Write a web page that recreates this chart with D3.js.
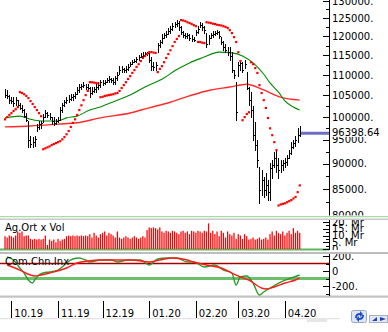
<!DOCTYPE html>
<html><head><meta charset="utf-8">
<script src="https://cdn.jsdelivr.net/npm/d3@7"></script>
<style>
html,body{margin:0;padding:0;background:#fff;overflow:hidden}
svg{display:block}
text{font-family:"DejaVu Sans",sans-serif;font-size:10px;fill:#000}
</style>
</head><body>
<svg id="c" width="388" height="332"></svg>
<script>
// ---------- DATA (trading days, index 0 = late Sep 2019) ----------
const high = [106300,106100,104900,104600,104400,104600,103900,103200,102700,101600,
100900,98900,95800,95400,95800,98400,98900,99100,100500,101400,
101100,100700,100000,99800,99500,99800,102100,103200,103900,104400,
104900,105100,105300,105800,106800,107500,107700,108000,107700,107500,
107000,106800,107000,107500,108000,108700,108500,108700,109200,109500,
109200,109000,109700,110500,112000,112000,111700,112000,112500,113200,
113700,114000,114500,115000,115300,115600,115800,115800,115800,114300,
113200,113200,118200,119000,120400,120900,121200,122000,122600,123400,
123900,124500,124200,122600,121200,120900,120900,120400,120100,119800,
121700,122600,123700,123400,122800,120900,120100,120900,121200,121400,
121700,121200,119800,118500,117700,117100,116900,115600,111200,108000,
113200,113700,113000,113700,110700,107000,105600,102300,98700,94900,
89300,88700,87300,88100,86700,90100,90700,92200,92400,91100,
90700,90700,91100,91600,92800,94300,94900,95800,97500,97800];
const low = [104400,104200,103200,103000,102500,102700,102100,101600,101100,99800,
98900,93400,93400,93400,93600,96700,97300,97500,98700,100000,
99800,99500,98400,98200,98400,98700,99300,101100,102300,103000,
103400,103900,103900,104200,105100,105800,106300,106800,106500,106300,
104600,105100,105600,105800,106500,107000,107300,107500,108000,108200,
108000,107500,107700,108700,110200,110700,110700,110700,111000,112200,
112700,113000,113200,113700,114300,114500,114800,115000,113200,111200,
111200,111200,115600,117100,118200,119300,119800,120400,120900,121700,
122300,122600,121700,120600,119800,119500,119500,119000,118700,118500,
120100,120900,122300,121700,120900,117100,117700,119500,119800,120100,
120400,119500,117700,116300,115800,115000,113700,110500,109200,99300,
109700,111200,110500,111700,106300,102700,100000,94900,92800,89300,
82300,83800,83400,83800,82900,82900,87100,89300,88300,87100,
88300,88700,89300,89700,91100,91800,93200,93600,94500,95800];
const close = [105100,104900,103900,103700,103200,103900,102700,102100,101600,100200,
99300,94900,94100,94500,95100,97800,98400,98700,100000,100900,
100500,100000,99100,98700,99100,99300,101600,102700,103400,103900,
104200,104600,104900,105300,106300,107000,107300,107500,107000,106800,
105600,106100,106500,107000,107500,108200,108000,108200,108700,109000,
108700,108200,109200,110000,111200,111500,111200,111500,112000,112700,
113200,113500,114000,114500,114800,115000,115300,115600,113700,112200,
112000,112500,117700,118500,119500,120400,120600,121400,122000,122800,
123400,123700,122600,121200,120400,120100,120400,119500,119300,119000,
121200,122000,123100,122600,121700,117900,119500,120400,120600,120900,
121200,120100,118500,117100,116300,115800,114800,111200,110000,101100,
112500,113000,111200,112700,106800,103900,101600,96000,93900,90700,
84800,86700,84800,85700,84400,89100,89700,91100,89700,88700,
89700,90100,90300,91100,92200,93400,94300,94900,96000,96398.64];
// volume, millions
const volume = [9.5,8.5,10,9.5,8.5,10,13,12,13,9.5,
10,10,7.5,7,7.5,7,7.5,7,7.5,10,
3,7,6,7,5,7.5,6,7,7.5,9.5,
10,9.5,10,9.5,10,9.5,10,9.5,10,9.5,
11,8.5,12,10,8.5,11,12,13,10,12,
11,10,8.5,13,8.5,7.5,8.5,9.5,8.5,7.5,
8.5,9.5,8.5,7.5,8.5,9.5,8.5,14,16,15.5,
16,15.5,14.5,16,13,12,13.5,13,12,13.5,
13,12,11,13,13.5,12,13,11,13.5,13,
12,13.5,13,12,13.5,13,19,12,13.5,11,
13,9.5,13.5,12,8.5,13,11,10,12,7.5,
11,10,7.5,11,9.5,7,7.5,8.5,7,7.5,
8.5,7,7.5,8.5,7,11,13,10,13.5,12,
11,13,10,12,13.5,11,15.5,12,13.5,12];
// parabolic SAR
const sar = [99500,100000,100500,100900,101400,101800,102300,105800,105600,105300,
104900,104400,103700,103000,102300,101600,100900,100200,93000,93200,
93400,93600,93900,94100,94300,94500,94700,95100,95600,96200,
96900,97800,98700,99500,100500,101600,102700,103900,105100,106100,
108200,108200,108100,108000,107900,104600,104700,104900,105000,105100,
105200,105300,105500,105600,106100,106800,107500,108200,109000,109700,
110500,111200,112000,112700,113500,114300,114800,115300,115800,115800,
115700,115600,110700,111500,112200,113200,114300,115300,116300,117400,
118500,119300,120100,124500,124400,124200,123900,123700,123400,123100,
122800,118500,118500,118300,118200,123900,123800,123700,123500,123400,
123200,123100,123000,122800,122600,122300,121700,120900,119800,118500,
115800,113500,99300,100000,100700,101100,113200,112700,111700,110500,
107500,105600,103900,102100,99800,97500,96000,94500,92800,81900,
82100,82200,82300,82500,82700,82900,83200,83500,84400,85700];
// moving averages (read at selected bars)
const maFastIdx = [0,7,12,17,25,29,34,40,45,52,59,66,75,80,87,93,101,107,112,117,122,125,129,132,136,139];
const maFastVal = [99800,100200,99500,99100,99100,99800,100200,101600,102300,103700,105100,107000,109200,111000,113000,114300,115800,115600,114800,113000,110200,108000,105800,103700,102300,101600];
const maSlowIdx = [0,12,25,34,45,59,68,78,87,97,106,114,122,130,139];
const maSlowVal = [97800,98000,98400,98700,99800,100900,102100,103400,104900,106300,107000,107700,106300,104600,103900];
// commodity channel index + signal
const cciIdx = [1,4,7,9,11,13,14,16,18,21,25,27,29,32,35,38,40,45,50,53,58,64,68,72,76,81,86,89,94,99,103,107,109,111,114,117,120,122,126,130,135,139];
const cciVal = [187,147,40,-27,-120,-160,-120,-53,-27,-13,13,53,107,160,173,147,120,147,147,120,147,147,80,160,173,173,120,120,53,80,13,-27,-187,-80,-67,-160,-320,-280,-213,-147,-93,-53];
const sigIdx = [1,7,12,14,17,21,29,34,39,45,60,68,73,79,86,89,95,102,107,111,115,121,123,127,132,137,139];
const sigVal = [80,13,-53,-67,-53,-27,40,107,133,147,147,120,147,173,147,120,80,40,-27,-80,-120,-227,-240,-213,-160,-120,-93];
const cciLevels = [100,-100];
// axes
const monthIdx = [3,25,46,68,90,110,132];
const monthLabels = ["10.19","11.19","12.19","01.20","02.20","03.20","04.20"];
const priceMajor = [80000,85000,90000,95000,100000,105000,110000,115000,120000,125000,130000];
const priceMinor = [82500,87500,92500,97500,102500,107500,112500,117500,122500,127500];
const volMajor = [0,5,10,15,20];
const volMinor = [2.5,7.5,12.5,17.5];
const cciMajor = [-200,0,200];
const cciMinor = [-300,-100,100];
const lastPrice = 96398.64;

// ---------- SCALES ----------
const svg = d3.select("#c");
const AX = 329;
const x = d3.scaleLinear().domain([0,139]).range([5,299.7]);
const y = d3.scaleLog().domain([80140,130260]).range([215,0]);
const yv = d3.scaleLinear().domain([0,20]).range([249,222]);
const yc = d3.scaleLinear().domain([-200,200]).range([286,256]);

const defs = svg.append("defs");
function clip(id,x0,y0,w,h){defs.append("clipPath").attr("id",id).append("rect").attr("x",x0).attr("y",y0).attr("width",w).attr("height",h);}
clip("cm",0,0,388,215.5);
clip("cv",0,220,388,30);
clip("co",0,254,388,42.5);

// ---------- separators ----------
function hline(y0,x1,x2,c,w){svg.append("line").attr("x1",x1).attr("x2",x2).attr("y1",y0).attr("y2",y0).attr("stroke",c).attr("stroke-width",w);}
hline(216.6,0,388,"#a6dca6",1.2);
hline(219.2,0,388,"#c8c8c8",1.6);
hline(249.6,0,AX,"#5cb85c",2);
hline(252.9,0,388,"#bdbdbd",2);
hline(296.6,0,388,"#c4c4c4",2.4);
hline(318.6,0,340,"#e2e2e2",1.4);

// ---------- main panel ----------
const gm = svg.append("g").attr("clip-path","url(#cm)");
const line = (ys) => d3.line().x(d=>x(d[0])).y(d=>ys(d[1])).curve(d3.curveMonotoneX);
gm.append("path").datum(d3.zip(maSlowIdx,maSlowVal)).attr("d",line(y)).attr("fill","none").attr("stroke","#ff2a2a").attr("stroke-width",1.4);
gm.append("path").datum(d3.zip(maFastIdx,maFastVal)).attr("d",line(y)).attr("fill","none").attr("stroke","#008a00").attr("stroke-width",1.1);
const idx = d3.range(close.length);
const bx = i => Math.round(x(i)) + 0.5;
gm.append("g").attr("stroke","#000").attr("stroke-width",1).attr("shape-rendering","crispEdges")
  .selectAll("line").data(idx).join("line")
  .attr("x1",bx).attr("x2",bx).attr("y1",i=>y(high[i])-0.5).attr("y2",i=>y(low[i])+0.5);
gm.append("g").attr("stroke","#000").attr("stroke-width",1).attr("shape-rendering","crispEdges")
  .selectAll("line").data(idx).join("line")
  .attr("x1",i=>bx(i)).attr("x2",i=>bx(i)+1.6).attr("y1",i=>Math.round(y(close[i]))+0.5).attr("y2",i=>Math.round(y(close[i]))+0.5);
gm.append("g").attr("fill","#ff0000")
  .selectAll("rect").data(idx).join("rect")
  .attr("x",i=>x(i)-1).attr("y",i=>y(sar[i])-1).attr("width",2.2).attr("height",2.2);

// last price marker
svg.append("line").attr("x1",301).attr("x2",AX).attr("y1",y(lastPrice)).attr("y2",y(lastPrice)).attr("stroke","#6e6ec6").attr("stroke-width",3);

// ---------- volume panel ----------
const gv = svg.append("g").attr("clip-path","url(#cv)");
gv.append("g").attr("fill","#ff0000").selectAll("rect").data(idx).join("rect")
  .attr("x",i=>x(i)-0.6).attr("width",1.25).attr("y",i=>yv(volume[i])).attr("height",i=>yv(0)-yv(volume[i]));
svg.append("text").attr("x",5).attr("y",230.7).text("Ag.Ort x Vol");

// ---------- oscillator panel ----------
const go = svg.append("g").attr("clip-path","url(#co)");
go.append("line").attr("x1",0).attr("x2",AX).attr("y1",yc(cciLevels[0])).attr("y2",yc(cciLevels[0])).attr("stroke","#a00000").attr("stroke-width",1.5);
go.append("line").attr("x1",0).attr("x2",AX).attr("y1",yc(cciLevels[1])).attr("y2",yc(cciLevels[1])).attr("stroke","#6cc06c").attr("stroke-width",3);
go.append("path").datum(d3.zip(cciIdx,cciVal)).attr("d",line(yc)).attr("fill","none").attr("stroke","#2f9a2f").attr("stroke-width",1.4);
go.append("path").datum(d3.zip(sigIdx,sigVal)).attr("d",line(yc)).attr("fill","none").attr("stroke","#ff1a1a").attr("stroke-width",1.4);
svg.append("text").attr("x",5).attr("y",265).text("Com.Chn.Inx");

// ---------- right axes ----------
function rightAxis(scale, ticks, size, fmt, clipId){
  const outer = svg.append("g").attr("clip-path",`url(#${clipId})`);
  const g = outer.append("g").attr("transform",`translate(${AX},0)`)
    .call(d3.axisRight(scale).tickValues(ticks).tickSize(-size).tickPadding(3).tickFormat(fmt));
  g.select(".domain").remove();
  g.attr("font-family","DejaVu Sans, sans-serif").attr("font-size",10);
  g.selectAll(".tick line").attr("shape-rendering","crispEdges");
  return g;
}
rightAxis(y, priceMajor, 6.5, d=>d+".", "cm");
rightAxis(y, priceMinor, 3.5, ()=>"", "cm");
rightAxis(yv, volMajor, 6, d=>d===0?"0":d+". Mr", "cv");
rightAxis(yv, volMinor, 3.5, ()=>"", "cv");
rightAxis(yc, cciMajor, 6, d=>d===0?"0":d+".", "co");
rightAxis(yc, cciMinor, 3.5, ()=>"", "co");
[[0,215.5],[220,250],[254,296]].forEach(([a,b])=>{
  svg.append("line").attr("x1",AX+0.5).attr("x2",AX+0.5).attr("y1",a).attr("y2",b).attr("stroke","#000").attr("stroke-width",1);
});
// last price label
svg.append("rect").attr("x",331).attr("y",y(lastPrice)-5).attr("width",52).attr("height",8.6).attr("fill","#fff");
svg.append("text").attr("x",332).attr("y",y(lastPrice)).attr("dy","0.32em").text(d3.format(".2f")(lastPrice));

// ---------- bottom time axis ----------
const gx = svg.append("g").attr("transform","translate(0,301)")
  .call(d3.axisBottom(x).tickValues(monthIdx).tickSize(17).tickFormat((d,i)=>monthLabels[i]));
gx.select(".domain").remove();
gx.attr("font-family","DejaVu Sans, sans-serif").attr("font-size",10);
gx.selectAll(".tick line").attr("shape-rendering","crispEdges");
gx.selectAll(".tick text").attr("x",2.5).attr("y",15.5).attr("dy","0").attr("text-anchor","start");

// ---------- toolbar icons (bottom right) ----------
svg.append("rect").attr("x",307).attr("y",318).attr("width",20).attr("height",4).attr("fill","#e6e6e6");
svg.append("rect").attr("x",351.5).attr("y",310.5).attr("width",15).attr("height",12).attr("rx",2).attr("fill","#dfe6f2").attr("stroke","#9aa8c8");
svg.append("path").attr("d","M355,318 q0,-5 5,-5 l0,-2 l3,3 l-3,3 l0,-2 q-3,0 -3,3 z M364,315 q0,5 -5,5 l0,2 l-3,-3 l3,-3 l0,2 q3,0 3,-3 z").attr("fill","#1f4fc8");
svg.append("rect").attr("x",369.5).attr("y",315.5).attr("width",18).attr("height",7).attr("fill","#e4e8f0").attr("stroke","#a8b0c8");
svg.append("path").attr("d","M372,321 l5,-4 l0,4 z M380,317 l6,2 l-6,2 z").attr("fill","#1f3fb8");
</script>
</body></html>
